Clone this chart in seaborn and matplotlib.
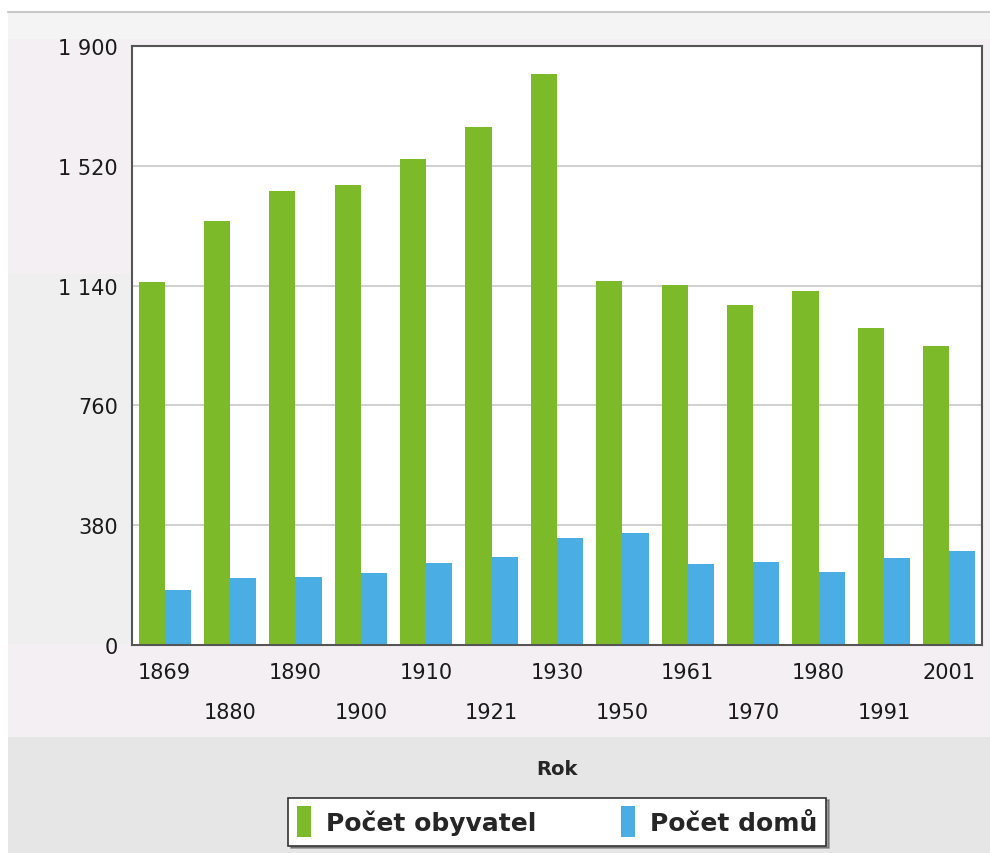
from matplotlib import pyplot as plt
import matplotlib.patches as mpatches
import pandas as pd
import seaborn as sns

years = ["1869", "1880", "1890", "1900", "1910", "1921", "1930",
         "1950", "1961", "1970", "1980", "1991", "2001"]
obyvatel = [1151, 1345, 1440, 1459, 1542, 1643, 1811,
            1155, 1142, 1078, 1123, 1006, 948]
domu = [174, 213, 216, 228, 260, 279, 339,
        355, 257, 263, 232, 276, 298]
series_names = ["Počet obyvatel", "Počet domů"]
colors = ["#7dba2a", "#4aaee4"]
y_ticks = [0, 380, 760, 1140, 1520, 1900]

df = pd.DataFrame({"Rok": years * 2,
                   "hodnota": obyvatel + domu,
                   "serie": [series_names[0]] * len(years)
                   + [series_names[1]] * len(years)})

sns.set_style("white")
plt.rcParams["font.family"] = ["DejaVu Sans"]

W, H = 990, 854
fig = plt.figure(figsize=(W / 100, H / 100), dpi=100)
fig.patch.set_facecolor("white")


def band(x0, y0, x1, y1, color):
    # rectangle in pixel coordinates (from top-left), drawn behind the axes
    fig.patches.append(mpatches.Rectangle(
        (x0 / W, 1 - y1 / H), (x1 - x0) / W, (y1 - y0) / H,
        transform=fig.transFigure, facecolor=color, lw=0, zorder=-5))


band(8, 14, W, 738, "#f3eff3")
band(8, 14, W, 40, "#f4f4f4")
band(8, 275, 131, 645, "#efefef")
band(8, 738, W, H, "#e6e6e6")
fig.lines.append(plt.Line2D([8 / W, 1], [1 - 13 / H] * 2,
                            transform=fig.transFigure,
                            color="#c8c8c8", lw=1.5, zorder=-4))

ax = fig.add_axes([132 / W, 208 / H, 850 / W, 599 / H])
ax.set_zorder(5)
sns.barplot(data=df, x="Rok", y="hodnota", hue="serie",
            palette=colors, width=0.8, saturation=1, ax=ax,
            linewidth=0, legend=True)

ax.set_ylim(0, 1900)
ax.set_yticks(y_ticks)
ax.set_yticklabels([f"{v:,}".replace(",", " ") for v in y_ticks])
ax.yaxis.grid(True, color="#c8c8c8", lw=1.2)
ax.set_axisbelow(True)
ax.set_xticks(range(len(years)))
ax.set_xticklabels([y if i % 2 == 0 else "\n" + y
                    for i, y in enumerate(years)], linespacing=2.3)
ax.tick_params(axis="both", labelsize=15, length=0, pad=12,
               colors="#1a1a1a")
ax.tick_params(axis="y", pad=10)
ax.set_ylabel("")
ax.set_xlabel("Rok", fontsize=14, fontweight="bold", labelpad=26)
for s in ax.spines.values():
    s.set_color("#555555")
    s.set_linewidth(1.5)

leg = ax.legend(loc="upper center", bbox_to_anchor=(0.5, -0.234),
                ncol=2, fontsize=18, frameon=True, fancybox=False,
                shadow=True, handlelength=0.55, handleheight=1.5,
                columnspacing=3.4, borderpad=0.35, handletextpad=0.6)
leg.get_frame().set_edgecolor("#333333")
leg.get_frame().set_linewidth(1.2)
leg.get_frame().set_alpha(1)
for t in leg.get_texts():
    t.set_fontweight("bold")

fig.savefig("out.png", dpi=100, facecolor=fig.get_facecolor())
